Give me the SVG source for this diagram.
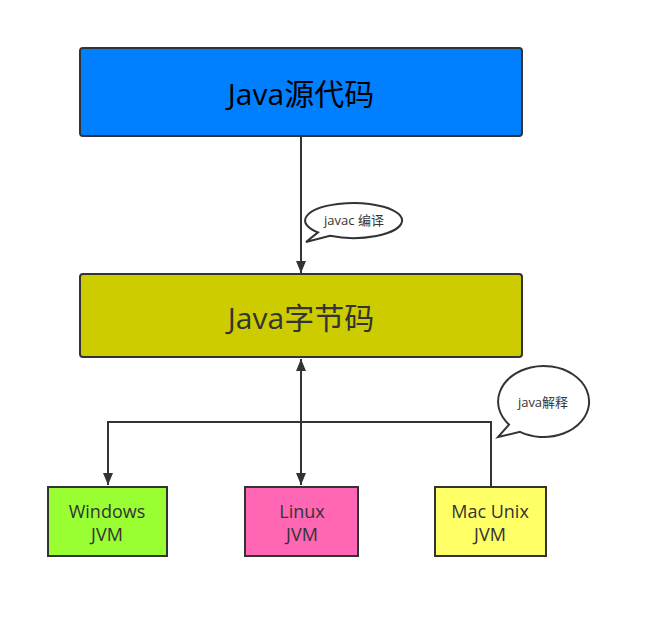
<svg xmlns="http://www.w3.org/2000/svg" width="651" height="619" viewBox="0 0 651 619">
<style>
.box{stroke:#333;stroke-width:2}
.t{font-family:"Open Sans","Noto Sans CJK SC",sans-serif;text-anchor:middle}
.big{font-size:30px}
.mid{font-size:18px;fill:#333}
.sm{font-size:13px;fill:#333}
.ln{fill:none;stroke:#333;stroke-width:2}
.bub{fill:#fff;stroke:#333;stroke-width:2}
</style>
<defs>
<marker id="ah" viewBox="0 0 12 10" refX="12" refY="5" markerWidth="12" markerHeight="10" markerUnits="userSpaceOnUse" orient="auto-start-reverse">
<path d="M0,0 L12,5 L0,10 Z" fill="#333"/>
</marker>
</defs>
<rect width="651" height="619" fill="#fff"/>
<g id="connectors">
<line class="ln" x1="301" y1="137" x2="301" y2="273" marker-end="url(#ah)"/>
<line class="ln" x1="301" y1="359" x2="301" y2="485" marker-start="url(#ah)" marker-end="url(#ah)"/>
<polyline class="ln" points="491,487 491,422 108,422 108,485" marker-end="url(#ah)"/>
</g>
<g id="source">
<rect class="box" x="80" y="48" width="442" height="88" rx="3" fill="#007fff"/>
<text class="t big" x="301" y="105" fill="#000">Java源代码</text>
</g>
<g id="bytecode">
<rect class="box" x="80" y="274" width="442" height="83" rx="3" fill="#cccc00"/>
<text class="t big" x="301" y="329" fill="#333">Java字节码</text>
</g>
<g id="bubble-javac">
<path class="bub" d="M318,232.4 L306,242 L330,235.8 A48.5 17.5 0 1 0 318,232.4 Z"/>
<text class="t sm" x="354" y="225">javac 编译</text>
</g>
<g id="bubble-java">
<path class="bub" d="M509,424.6 L498,437 L520,431.9 A45.5 35.5 0 1 0 509,424.6 Z"/>
<text class="t sm" x="543" y="407">java解释</text>
</g>
<g id="windows">
<rect class="box" x="48" y="487" width="119" height="69" fill="#99ff33"/>
<text class="t mid" x="107" y="518">Windows</text>
<text class="t mid" x="107" y="541">JVM</text>
</g>
<g id="linux">
<rect class="box" x="245" y="487" width="113" height="69" fill="#ff66b3"/>
<text class="t mid" x="302" y="518">Linux</text>
<text class="t mid" x="302" y="541">JVM</text>
</g>
<g id="mac">
<rect class="box" x="435" y="487" width="111" height="69" fill="#ffff66"/>
<text class="t mid" x="490" y="518">Mac Unix</text>
<text class="t mid" x="490" y="541">JVM</text>
</g>
</svg>
